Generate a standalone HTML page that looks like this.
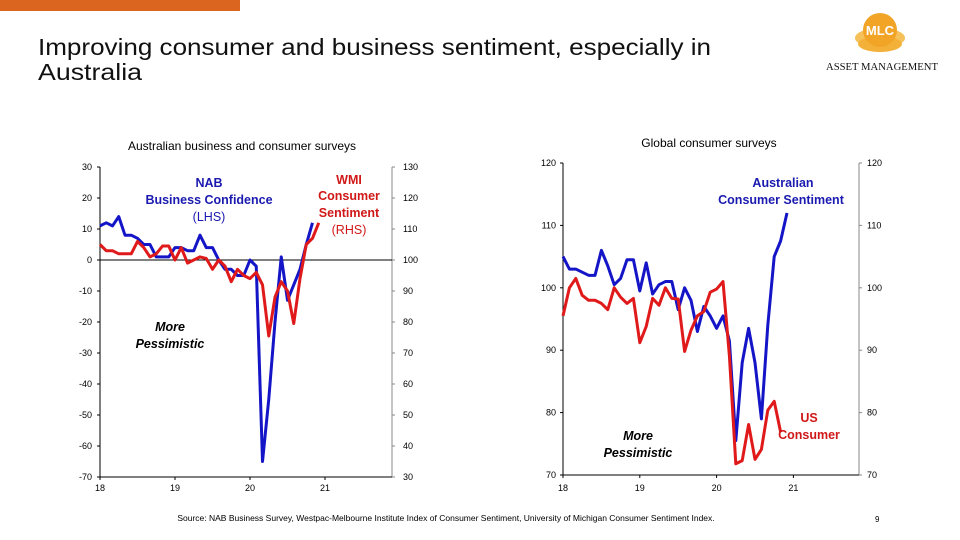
<!DOCTYPE html>
<html><head><meta charset="utf-8"><style>
body{margin:0;width:960px;height:540px;background:#fff;overflow:hidden;font-family:"Liberation Sans",sans-serif}
svg{position:absolute;left:0;top:0}
</style></head><body>
<svg width="960" height="540" font-family="Liberation Sans, sans-serif">
<rect x="0" y="0" width="240" height="11" fill="#db641f"/>
<text x="38" y="55" font-size="23" fill="#111" textLength="673" lengthAdjust="spacingAndGlyphs">Improving consumer and business sentiment, especially in</text>
<text x="38" y="80" font-size="23" fill="#111" textLength="104" lengthAdjust="spacingAndGlyphs">Australia</text>
<g>
<ellipse cx="880" cy="38" rx="25" ry="10" fill="#f6c15a"/>
<ellipse cx="880" cy="44" rx="22" ry="8" fill="#f3b13a"/>
<circle cx="880" cy="30" r="17" fill="#f2a426"/>
<text x="880" y="35" font-size="13" font-weight="bold" fill="#fff" text-anchor="middle">MLC</text>
<text x="882" y="70" font-size="10" fill="#111" text-anchor="middle" textLength="112" lengthAdjust="spacingAndGlyphs" font-family="Liberation Serif, serif">ASSET MANAGEMENT</text>
</g>
<text x="242" y="150" font-size="12" text-anchor="middle">Australian business and consumer surveys</text>
<text x="709" y="147" font-size="12" text-anchor="middle">Global consumer  surveys</text>
<g id="left"></g><g id="right"></g>
<text x="446" y="521" font-size="8.5" text-anchor="middle">Source: NAB Business Survey, Westpac-Melbourne Institute Index of Consumer Sentiment, University of Michigan Consumer Sentiment Index.</text>
<text x="875" y="522" font-size="8">9</text>
</svg>
<script>
const NS="http://www.w3.org/2000/svg";
const nabConfidence=[11,12,11,14,8,8,7,5,5,1,1,1,4,4,3,3,8,4,4,0,-3,-3,-5,-5,0,-2,-65,-45,-20,1,-13,-8,-3,5,12];
const wmiSentiment=[105,103,103,102,102,102,106,104,101,102,104.5,104.5,100,104,99,100,101,100.5,97,100,98,93,97,95,94,96,92,75.5,88,93,90,79.5,94,105,107,112];
const ausSentiment=[105,103,103,102.5,102,102,106,103.5,100.5,101.5,104.5,104.5,99.5,104,99,100.5,101,101,96.5,100,98,93,97,95.5,93.5,95.5,91.5,75.5,88,93.5,88,79,94,105,107.5,112];
const usSentiment=[95.5,100,101.5,98.8,98,98,97.5,96.5,100,98.5,97.5,98.3,91.2,93.8,98.3,97.2,100,98.3,98.2,89.8,93.2,95.5,96.2,99.3,99.8,101,89.1,71.8,72.3,78.1,72.5,74.1,80.4,81.8,76.9];
const leftTicksL=[30,20,10,0,-10,-20,-30,-40,-50,-60,-70];
const leftTicksR=[130,120,110,100,90,80,70,60,50,40,30];
const rightTicks=[120,110,100,90,80,70];
const yearLabels=["18","19","20","21"];
function el(p,t,a,txt){const e=document.createElementNS(NS,t);for(const k in a)e.setAttribute(k,a[k]);if(txt!==undefined)e.textContent=txt;p.appendChild(e);return e;}
const L=document.getElementById('left');
const lx0=100,lx1=392,ly0=167,ly1=477,lmw=6.25;
const lyL=v=>ly0+(30-v)/100*(ly1-ly0);
const lyR=v=>ly0+(130-v)/100*(ly1-ly0);
const lx=i=>lx0+i*lmw;
let a=el(L,'line',{x1:lx0,y1:ly0,x2:lx0,y2:ly1,stroke:'#000'});

a=el(L,'line',{x1:lx1,y1:ly0,x2:lx1,y2:ly1,stroke:'#888'});

a=el(L,'line',{x1:lx0,y1:ly1,x2:lx1,y2:ly1,stroke:'#000'});

a=el(L,'line',{x1:lx0,y1:lyL(0),x2:lx1,y2:lyL(0),stroke:'#000'});

leftTicksL.forEach(v=>{const t=el(L,'text',{x:92,y:lyL(v)+3,'font-size':9,'text-anchor':'end'},v);

el(L,'line',{x1:lx0-3,y1:lyL(v),x2:lx0,y2:lyL(v),stroke:'#000'});});
leftTicksR.forEach(v=>{const t=el(L,'text',{x:403,y:lyR(v)+3,'font-size':9},v);

el(L,'line',{x1:lx1,y1:lyR(v),x2:lx1+3,y2:lyR(v),stroke:'#888'});});
yearLabels.forEach((y,i)=>{const t=el(L,'text',{x:lx(i*12),y:491,'font-size':9,'text-anchor':'middle'},y);

el(L,'line',{x1:lx(i*12),y1:ly1,x2:lx(i*12),y2:ly1+3,stroke:'#000'});});
let p=el(L,'polyline',{points:nabConfidence.map((v,i)=>lx(i)+','+lyL(v)).join(' '),fill:'none',stroke:'#1515c8','stroke-width':3,'stroke-linejoin':'round'});

p=el(L,'polyline',{points:wmiSentiment.map((v,i)=>lx(i)+','+lyR(v)).join(' '),fill:'none',stroke:'#e01a1a','stroke-width':3,'stroke-linejoin':'round'});

[["NAB",209,187,'bold','#1a1ab0'],["Business Confidence",209,204,'bold','#1a1ab0'],["(LHS)",209,221,'normal','#1a1ab0'],["WMI",349,184,'bold','#d01818'],["Consumer",349,200,'bold','#d01818'],["Sentiment",349,217,'bold','#d01818'],["(RHS)",349,234,'normal','#d01818']].forEach(d=>{const t=el(L,'text',{x:d[1],y:d[2],'font-size':12.5,'text-anchor':'middle',fill:d[4],'font-weight':d[3]},d[0]);
});
[["More",170,331],["Pessimistic",170,348]].forEach(d=>{const t=el(L,'text',{x:d[1],y:d[2],'font-size':12.5,'text-anchor':'middle','font-style':'italic','font-weight':'bold'},d[0]);
});
const R=document.getElementById('right');
const rx0=563,rx1=859,ry0=163,ry1=475,rmw=6.4;
const ry=v=>ry0+(120-v)/50*(ry1-ry0);
const rx=i=>rx0+i*rmw;
a=el(R,'line',{x1:rx0,y1:ry0,x2:rx0,y2:ry1,stroke:'#000'});

a=el(R,'line',{x1:rx1,y1:ry0,x2:rx1,y2:ry1,stroke:'#888'});

a=el(R,'line',{x1:rx0,y1:ry1,x2:rx1,y2:ry1,stroke:'#000'});

rightTicks.forEach(v=>{let t=el(R,'text',{x:556,y:ry(v)+3,'font-size':9,'text-anchor':'end'},v);

t=el(R,'text',{x:867,y:ry(v)+3,'font-size':9},v);

el(R,'line',{x1:rx0-3,y1:ry(v),x2:rx0,y2:ry(v),stroke:'#000'});
el(R,'line',{x1:rx1,y1:ry(v),x2:rx1+3,y2:ry(v),stroke:'#888'});});
yearLabels.forEach((y,i)=>{const t=el(R,'text',{x:rx(i*12),y:491,'font-size':9,'text-anchor':'middle'},y);

el(R,'line',{x1:rx(i*12),y1:ry1,x2:rx(i*12),y2:ry1+3,stroke:'#000'});});
p=el(R,'polyline',{points:ausSentiment.map((v,i)=>rx(i)+','+ry(v)).join(' '),fill:'none',stroke:'#1515c8','stroke-width':3,'stroke-linejoin':'round'});

p=el(R,'polyline',{points:usSentiment.map((v,i)=>rx(i)+','+ry(v)).join(' '),fill:'none',stroke:'#e01a1a','stroke-width':3,'stroke-linejoin':'round'});

[["Australian",783,187,'#1a1ab0'],["Consumer Sentiment",781,204,'#1a1ab0'],["US",809,422,'#d01818'],["Consumer",809,439,'#d01818']].forEach(d=>{const t=el(R,'text',{x:d[1],y:d[2],'font-size':12.5,'text-anchor':'middle',fill:d[3],'font-weight':'bold'},d[0]);
});
[["More",638,440],["Pessimistic",638,457]].forEach(d=>{const t=el(R,'text',{x:d[1],y:d[2],'font-size':12.5,'text-anchor':'middle','font-style':'italic','font-weight':'bold'},d[0]);
});
</script>
</body></html>
